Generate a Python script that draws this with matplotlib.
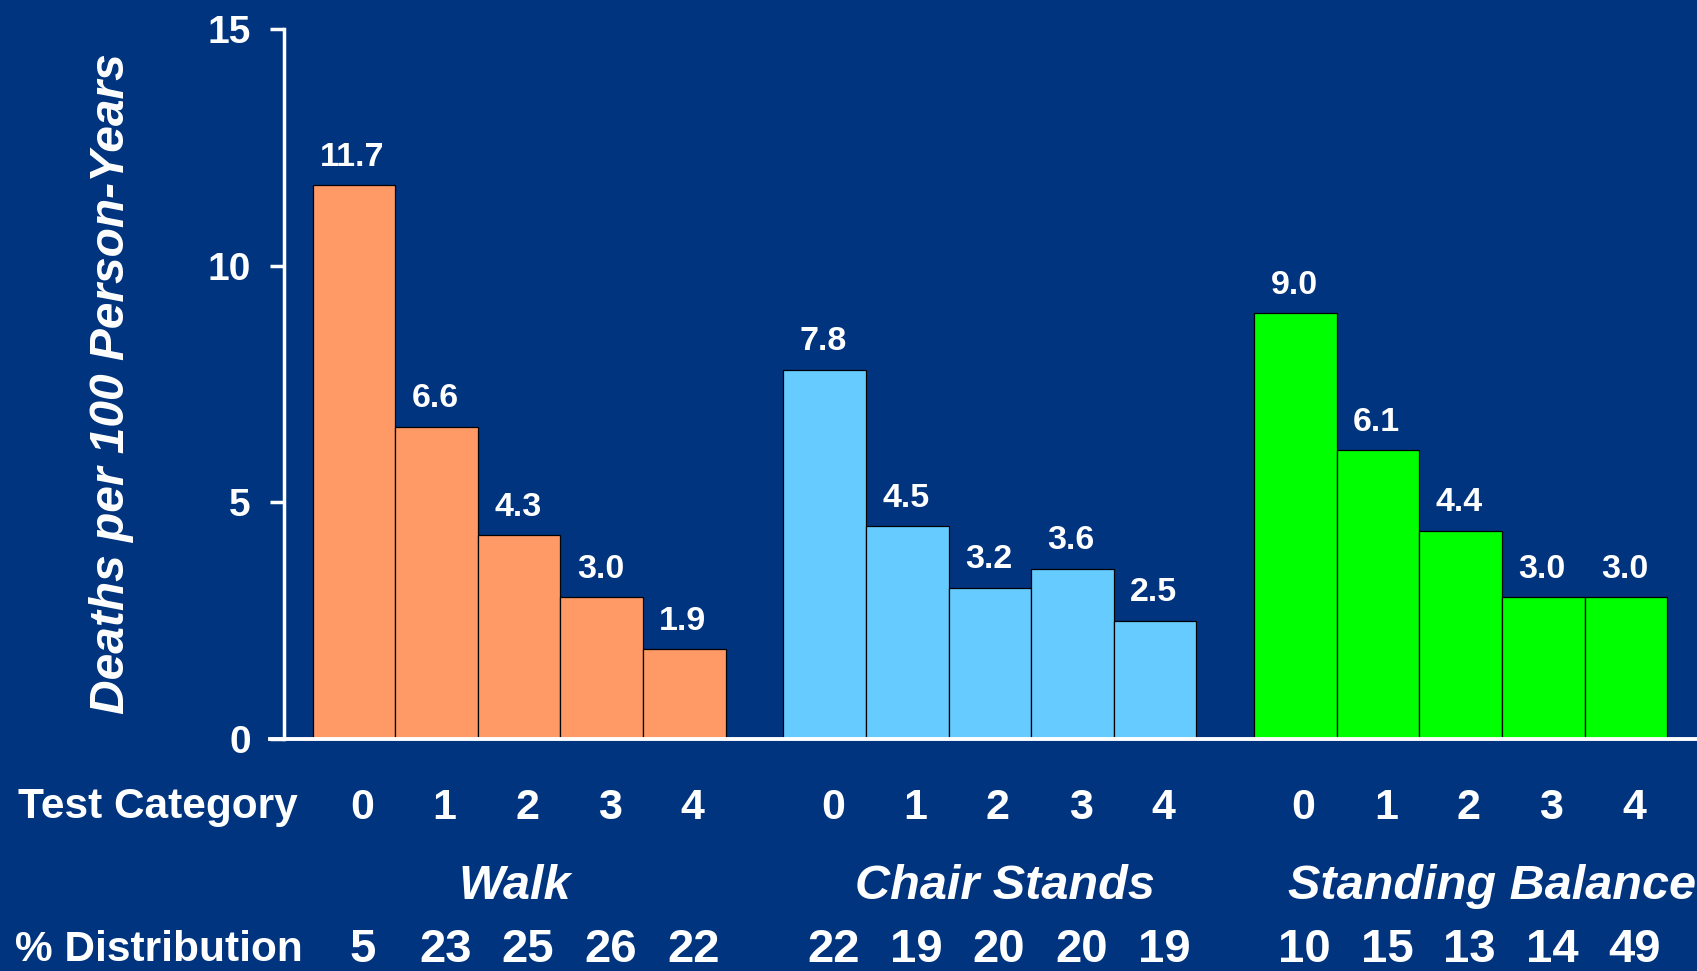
import matplotlib
matplotlib.use("Agg")
import matplotlib.pyplot as plt
from matplotlib.lines import Line2D
from matplotlib import transforms

# values
groups = ["Walk", "Chair Stands", "Standing Balance"]
categories = ["0", "1", "2", "3", "4"]
walk = [11.7, 6.6, 4.3, 3.0, 1.9]
chair = [7.8, 4.5, 3.2, 3.6, 2.5]
balance = [9.0, 6.1, 4.4, 3.0, 3.0]
dist_walk = [5, 23, 25, 26, 22]
dist_chair = [22, 19, 20, 20, 19]
dist_balance = [10, 15, 13, 14, 49]
colors = ["#FF9966", "#66CCFF", "#00FF00"]

BG = "#00347F"
W, H = 1697, 971
plt.rcParams["font.family"] = ["Liberation Sans", "DejaVu Sans"]

fig = plt.figure(figsize=(W / 100, H / 100), dpi=100, facecolor=BG)
ax = fig.add_axes([284 / W, (H - 739) / H, (W - 284) / W, (739 - 29) / H])
ax.set_facecolor(BG)

step = 5.7  # group spacing (5 bars + gap)
series = [walk, chair, balance]
dists = [dist_walk, dist_chair, dist_balance]
for g, vals in enumerate(series):
    xs = [g * step + i for i in range(len(vals))]
    ax.bar(xs, vals, width=1.0, color=colors[g], edgecolor="black", linewidth=0.9, zorder=2)
    for x, v in zip(xs, vals):
        ax.annotate(f"{v:.1f}", (x, v), xytext=(-1, 14), textcoords="offset points",
                    ha="center", va="baseline", color="white", fontsize=24.5,
                    fontweight="bold")

ax.set_xlim(-0.847, 16.26)
ax.set_ylim(0, 15)
ax.set_yticks([0, 5, 10, 15])
ax.set_xticks([])
for s in ["top", "right", "bottom"]:
    ax.spines[s].set_visible(False)
ax.spines["left"].set_color("white")
ax.spines["left"].set_linewidth(2.5)
ax.tick_params(axis="y", colors="white", direction="out", length=10, width=2.5, pad=14,
               labelsize=28)
for lbl in ax.get_yticklabels():
    lbl.set_fontweight("bold")

# baseline running under the y-axis tick
fig.add_artist(Line2D([270 / W, 1.0], [(H - 739) / H] * 2, color="white", linewidth=2.8,
                      transform=fig.transFigure, zorder=5))

fig.text(111 / W, (H - 384) / H, "Deaths per 100 Person-Years", rotation=90,
         ha="center", va="center", color="white", fontsize=34.5, fontweight="bold",
         style="italic")

# rows under the chart
tr = transforms.blended_transform_factory(ax.transData, fig.transFigure)
px = 1 / 82.6  # one pixel in data units
fig.text(18 / W, (H - 818) / H, "Test Category", ha="left", va="baseline",
         color="white", fontsize=30.5, fontweight="bold")
fig.text(15 / W, (H - 961) / H, "% Distribution", ha="left", va="baseline",
         color="white", fontsize=30.5, fontweight="bold")

name_shift = [-4, 15, 31]
for g in range(len(groups)):
    xs = [g * step + i for i in range(len(categories))]
    for x, c in zip(xs, categories):
        ax.text(x + 8 * px, (H - 819) / H, c, transform=tr, ha="center", va="baseline",
                color="white", fontsize=31, fontweight="bold")
    for x, d in zip(xs, dists[g]):
        ax.text(x + 9 * px, (H - 962) / H, str(d), transform=tr, ha="center",
                va="baseline", color="white", fontsize=34, fontweight="bold")
    center = (xs[0] + xs[-1]) / 2 + name_shift[g] * px
    ax.text(center, (H - 899) / H, groups[g], transform=tr, ha="center", va="baseline",
            color="white", fontsize=35, fontweight="bold", style="italic")

fig.savefig("out.png", dpi=100, facecolor=BG)
